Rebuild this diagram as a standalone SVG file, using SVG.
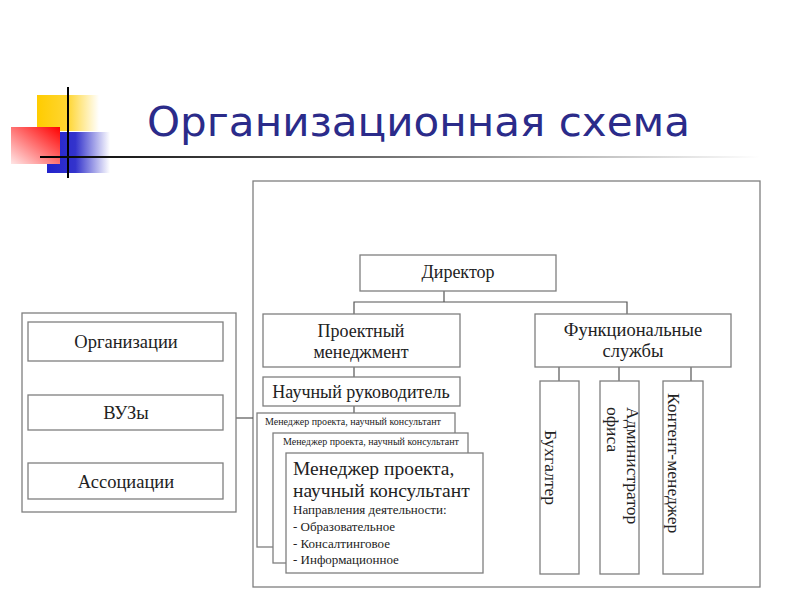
<svg xmlns="http://www.w3.org/2000/svg" width="800" height="600" viewBox="0 0 800 600">
<defs>
<linearGradient id="gy" x1="0" y1="0" x2="1" y2="0"><stop offset="0" stop-color="#ffcc00"/><stop offset="0.5" stop-color="#ffd633"/><stop offset="1" stop-color="#ffffff"/></linearGradient>
<linearGradient id="gr" x1="1" y1="0" x2="0" y2="1"><stop offset="0" stop-color="#ff0000"/><stop offset="1" stop-color="#ffe6e6"/></linearGradient>
<linearGradient id="gb" x1="0" y1="0" x2="1" y2="0"><stop offset="0" stop-color="#2222cc"/><stop offset="0.45" stop-color="#3333cc"/><stop offset="1" stop-color="#ffffff"/></linearGradient>
<linearGradient id="gl" x1="0" y1="0" x2="1" y2="0"><stop offset="0" stop-color="#000000"/><stop offset="0.5" stop-color="#777777"/><stop offset="1" stop-color="#ffffff"/></linearGradient>
<style>
.b{fill:#fff;stroke:#7f7f7f;stroke-width:1.3}
.c{fill:none;stroke:#555;stroke-width:1.2}
.t{font-family:"Liberation Serif","Times New Roman",serif;fill:#222;text-anchor:middle}
.l{font-family:"Liberation Serif","Times New Roman",serif;fill:#222}
</style>
</defs>
<g id="logo">
<rect x="37" y="95" width="62" height="36" fill="url(#gy)"/>
<rect x="47" y="132" width="63" height="41" fill="url(#gb)"/>
<rect x="11" y="127" width="49" height="37" fill="url(#gr)"/>
<line x1="68" y1="87" x2="68" y2="178" stroke="#000" stroke-width="2"/>
<rect x="40" y="156" width="720" height="2" fill="url(#gl)"/>
</g>
<text id="title" x="147" y="136" font-family="Tahoma,'DejaVu Sans',sans-serif" font-size="40" fill="#2b2b8a" textLength="543" lengthAdjust="spacingAndGlyphs">Организационная схема</text>
<g id="outer"><rect class="b" x="253" y="181" width="507" height="406"/></g>
<g id="connectors" class="c">
<path d="M444 291V302M354 314V302H627V314"/>
<path d="M354 367V377M354 406V413"/>
<path d="M559 367V381M619 367V381M691 367V381"/>
<path d="M236 418H253"/>
</g>
<g id="partners">
<rect class="b" x="22" y="313" width="214" height="199"/>
<g id="org"><rect class="b" x="28" y="322" width="195" height="39"/><text class="t" x="126" y="348" font-size="18.5">Организации</text></g>
<g id="vuz"><rect class="b" x="28" y="395" width="195" height="35"/><text class="t" x="126" y="419" font-size="18.5">ВУЗы</text></g>
<g id="assoc"><rect class="b" x="28" y="463" width="195" height="36"/><text class="t" x="126" y="488" font-size="18.5">Ассоциации</text></g>
</g>
<g id="director"><rect class="b" x="360" y="255" width="196" height="36"/><text class="t" x="458" y="278" font-size="18">Директор</text></g>
<g id="pm"><rect class="b" x="263" y="314" width="197" height="53"/><text class="t" x="361" y="337" font-size="18">Проектный</text><text class="t" x="361" y="358" font-size="18">менеджмент</text></g>
<g id="fs"><rect class="b" x="535" y="314" width="196" height="53"/><text class="t" x="633" y="336" font-size="18.5">Функциональные</text><text class="t" x="633" y="357" font-size="18.5">службы</text></g>
<g id="sci"><rect class="b" x="263" y="377" width="197" height="29"/><text class="t" x="361" y="398" font-size="18">Научный руководитель</text></g>
<g id="mgr1"><rect class="b" x="257" y="413" width="198" height="134"/><text class="l" x="265" y="425" font-size="10">Менеджер проекта, научный консультант</text></g>
<g id="mgr2"><rect class="b" x="273" y="433" width="195" height="130"/><text class="l" x="283" y="445" font-size="10">Менеджер проекта, научный консультант</text></g>
<g id="mgr3"><rect class="b" x="286" y="453" width="197" height="120"/>
<text class="l" x="293" y="475" font-size="19.5">Менеджер проекта,</text>
<text class="l" x="293" y="497" font-size="19.5">научный консультант</text>
<text class="l" x="293" y="514" font-size="13">Направления деятельности:</text>
<text class="l" x="293" y="531" font-size="13">- Образовательное</text>
<text class="l" x="293" y="548" font-size="13">- Консалтинговое</text>
<text class="l" x="293" y="564" font-size="13">- Информационное</text>
</g>
<g id="buh"><rect class="b" x="540" y="381" width="39" height="193"/><text class="l" transform="translate(545 430) rotate(90)" font-size="17.5">Бухгалтер</text></g>
<g id="adm"><rect class="b" x="600" y="381" width="39" height="193"/><text class="l" transform="translate(627 407) rotate(90)" font-size="17.5">Администратор</text><text class="l" transform="translate(607 407) rotate(90)" font-size="17.5">офиса</text></g>
<g id="cm"><rect class="b" x="663" y="381" width="40" height="193"/><text class="l" transform="translate(668 393) rotate(90)" font-size="17.5">Контент-менеджер</text></g>
</svg>
